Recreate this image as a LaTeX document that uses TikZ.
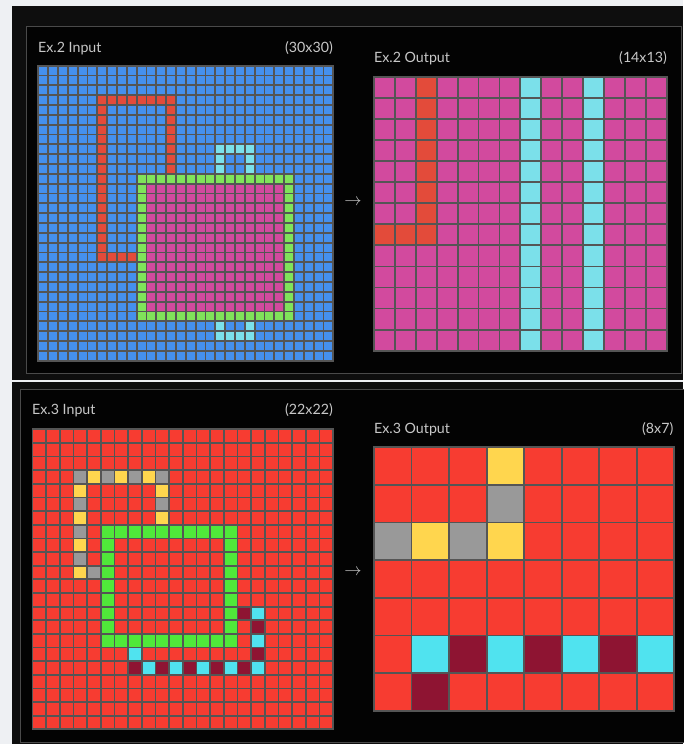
\documentclass[tikz,border=0pt]{standalone}
\usepackage{fontspec}
\setmainfont{Lato}
\definecolor{pagebg}{HTML}{EEF0F3}
\definecolor{outerbk}{HTML}{0E0E0E}
\definecolor{panelbk}{HTML}{030303}
\definecolor{panelbd}{HTML}{4A4A4A}
\definecolor{lblc}{HTML}{C8C8C8}
\definecolor{gline}{HTML}{555555}
\definecolor{cBlue}{HTML}{4590EE}
\definecolor{cRedA}{HTML}{E34B3A}
\definecolor{cGreenA}{HTML}{80E35A}
\definecolor{cMag}{HTML}{D24A9E}
\definecolor{cCyanA}{HTML}{7BE0EA}
\definecolor{cRedB}{HTML}{F73C31}
\definecolor{cGray}{HTML}{999999}
\definecolor{cYel}{HTML}{FFD64E}
\definecolor{cGreenB}{HTML}{50E83A}
\definecolor{cDark}{HTML}{8E1432}
\definecolor{cCyanB}{HTML}{50E3EF}
\tikzset{
  gridline/.style={draw=gline, line width=1.8pt, line cap=rect},
  lbl/.style={text=lblc, font=\fontsize{14.2}{15}\selectfont, inner sep=0pt},
  arrowtxt/.style={text=lblc, font=\fontsize{18}{18}\selectfont, inner sep=0pt},
  panelbox/.style={draw=panelbd, line width=1pt, fill=panelbk}
}
\newcommand\gridlinesAB[2]{%
  \foreach \i in {0,...,#1} \draw[gridline] (\i,0) -- (\i,#2);
  \foreach \j in {0,...,#2} \draw[gridline] (0,\j) -- (#1,\j);}
\newcommand\cellsAB[2]{\foreach \c/\r in {#2} \fill[#1] (\c,\r) rectangle ++(1,1);}
\begin{document}
\begin{tikzpicture}[x=1pt,y=-1pt]
\useasboundingbox (0,0) rectangle (683,744);
\fill[pagebg] (0,0) rectangle (683,744);
\fill[outerbk] (12,6) rectangle (683,380);
\fill[outerbk] (12,382) rectangle (683,744);
\draw[panelbox] (26.5,26.5) rectangle (681.5,373);
\draw[panelbox] (20.5,389) rectangle (690,742.3);

% ---------- Ex.2 labels ----------
\node[lbl, anchor=base west] (in2lbl) at (38,52.5) {Ex.2 Input};
\node[lbl, anchor=base east] (in2size) at (333,52.5) {(30x30)};
\node[lbl, anchor=base west] (out2lbl) at (374,62.5) {Ex.2 Output};
\node[lbl, anchor=base east] (out2size) at (667,62.5) {(14x13)};
\node[arrowtxt] (arr2) at (353,202) {$\rightarrow$};

% ---------- Ex.2 input 30x30 ----------
\begin{scope}[shift={(38.3,65.7)}, x=9.833pt, y=-9.833pt]
  \fill[cBlue] (0,0) rectangle (30,30);
  \fill[cRedA] (6,3) rectangle (14,4);
  \fill[cRedA] (13,3) rectangle (14,11);
  \fill[cRedA] (6,3) rectangle (7,20);
  \fill[cRedA] (6,19) rectangle (10,20);
  \fill[cGreenA] (10,11) rectangle (26,26);
  \fill[cMag] (11,12) rectangle (25,25);
  \fill[cCyanA] (18,8) rectangle (22,9);
  \fill[cCyanA] (18,9) rectangle (19,11);
  \fill[cCyanA] (21,9) rectangle (22,11);
  \fill[cCyanA] (18,26) rectangle (19,27);
  \fill[cCyanA] (21,26) rectangle (22,27);
  \fill[cCyanA] (18,27) rectangle (22,28);
  \gridlinesAB{30}{30}
\end{scope}

% ---------- Ex.2 output 14x13 ----------
\begin{scope}[shift={(374,76.7)}, x=20.9pt, y=-21.08pt]
  \fill[cMag] (0,0) rectangle (14,13);
  \fill[cRedA] (2,0) rectangle (3,8);
  \fill[cRedA] (0,7) rectangle (3,8);
  \fill[cCyanA] (7,0) rectangle (8,13);
  \fill[cCyanA] (10,0) rectangle (11,13);
  \gridlinesAB{14}{13}
\end{scope}

% ---------- Ex.3 labels ----------
\node[lbl, anchor=base west] (in3lbl) at (32,414) {Ex.3 Input};
\node[lbl, anchor=base east] (in3size) at (333,414) {(22x22)};
\node[lbl, anchor=base west] (out3lbl) at (374,433) {Ex.3 Output};
\node[lbl, anchor=base east] (out3size) at (673.5,433) {(8x7)};
\node[arrowtxt] (arr3) at (353,572) {$\rightarrow$};

% ---------- Ex.3 input 22x22 ----------
\begin{scope}[shift={(32.5,429.3)}, x=13.67pt, y=-13.64pt]
  \fill[cRedB] (0,0) rectangle (22,22);
  \cellsAB{cGray}{3/3,5/3,7/3,9/3,9/5,3/5,3/7,3/9,4/10}
  \cellsAB{cYel}{4/3,6/3,8/3,3/4,9/4,3/6,9/6,3/8,3/10}
  \fill[cGreenB] (5,7) rectangle (15,8);
  \fill[cGreenB] (5,15) rectangle (15,16);
  \fill[cGreenB] (5,7) rectangle (6,16);
  \fill[cGreenB] (14,7) rectangle (15,16);
  \cellsAB{cDark}{15/13,16/14,16/16,7/17,9/17,11/17,13/17,15/17}
  \cellsAB{cCyanB}{16/13,16/15,7/16,8/17,10/17,12/17,14/17,16/17}
  \gridlinesAB{22}{22}
\end{scope}

% ---------- Ex.3 output 8x7 ----------
\begin{scope}[shift={(374,447.3)}, x=37.54pt, y=-37.62pt]
  \fill[cRedB] (0,0) rectangle (8,7);
  \cellsAB{cYel}{3/0,1/2,3/2}
  \cellsAB{cGray}{3/1,0/2,2/2}
  \cellsAB{cCyanB}{1/5,3/5,5/5,7/5}
  \cellsAB{cDark}{2/5,4/5,6/5,1/6}
  \gridlinesAB{8}{7}
\end{scope}
\end{tikzpicture}
\end{document}
